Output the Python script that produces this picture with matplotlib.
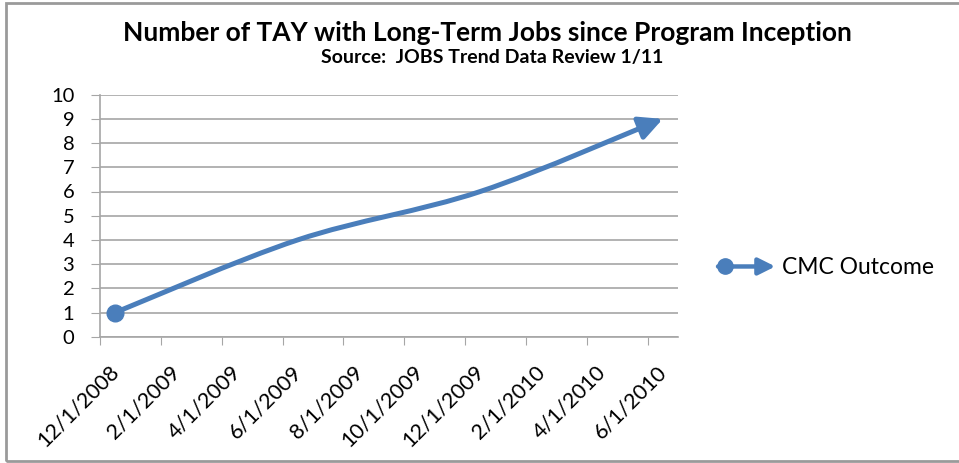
import numpy as np
import matplotlib
matplotlib.use("Agg")
import matplotlib.pyplot as plt
from matplotlib.path import Path
from matplotlib.patches import FancyArrowPatch, Rectangle
from matplotlib.legend_handler import HandlerBase
from matplotlib.lines import Line2D
from matplotlib.transforms import ScaledTranslation

# === Data ===
tick_labels = ["12/1/2008", "2/1/2009", "4/1/2009", "6/1/2009", "8/1/2009",
               "10/1/2009", "12/1/2009", "2/1/2010", "4/1/2010", "6/1/2010"]
# months since 12/1/2008 for each observation (Excel puts them mid-month)
obs_month = [0, 6, 12, 18]
obs_value = [1, 4, 6, 9]
series_name = "CMC Outcome"

title = "Number of TAY with Long-Term Jobs since Program Inception"
subtitle = "Source:  JOBS Trend Data Review 1/11"

blue = "#4a7ebb"
grid_col = "#a6a6a6"
plt.rcParams["font.family"] = ["Lato", "DejaVu Sans"]


def smooth_path(xs, ys):
    # Excel style smoothed line: cubic bezier through the points
    pts = np.column_stack([xs, ys]).astype(float)
    n = len(pts)
    verts = [pts[0]]
    codes = [Path.MOVETO]
    for i in range(n - 1):
        p0 = pts[i - 1] if i > 0 else pts[i]
        p1 = pts[i]
        p2 = pts[i + 1]
        p3 = pts[i + 2] if i + 2 < n else pts[i + 1]
        c1 = p1 + (p2 - p0) / 6.0
        c2 = p2 - (p3 - p1) / 6.0
        verts += [c1, c2, p2]
        codes += [Path.CURVE4] * 3
    return Path(verts, codes)


class DotArrowHandler(HandlerBase):
    def create_artists(self, legend, orig_handle, xdescent, ydescent,
                       width, height, fontsize, trans):
        y = height / 2 - ydescent
        arr = FancyArrowPatch((0, y), (width, y), transform=trans,
                              arrowstyle="-|>,head_length=10,head_width=5",
                              color=blue, lw=3.2, shrinkA=0, shrinkB=0,
                              mutation_scale=1)
        dot = Line2D([5], [y], marker="o", markersize=11, color=blue,
                     transform=trans)
        return [arr, dot]


fig = plt.figure(figsize=(9.59, 4.63), dpi=100)
ax = fig.add_axes([100 / 959, 1 - 336.7 / 463, 578 / 959, 242 / 463])

x = np.array(obs_month) + 0.5
ax.set_xlim(0, 19)
ax.set_ylim(0, 10)

path = smooth_path(x, obs_value)
line = FancyArrowPatch(path=path, arrowstyle="-|>,head_length=14,head_width=7",
                       color=blue, lw=3.6, mutation_scale=1, zorder=3)
ax.add_patch(line)
ax.plot(x[:1], obs_value[:1], "o", color=blue, markersize=12, zorder=4)

ax.set_yticks(range(0, 11))
ax.tick_params(axis="y", labelsize=14.5, length=6.5, color=grid_col, pad=12)
ax.tick_params(axis="x", length=6, color=grid_col, pad=17)
ax.set_xticks(np.arange(0, 20, 2))
ax.set_xticklabels(tick_labels, rotation=45, ha="right", va="center",
                   rotation_mode="anchor", fontsize=15.5)
shift = ScaledTranslation(0.16, 0, fig.dpi_scale_trans)
for lab in ax.get_xticklabels():
    lab.set_transform(lab.get_transform() + shift)
ax.yaxis.grid(True, color=grid_col, lw=1.2)
ax.set_axisbelow(True)
for s in ["top", "right"]:
    ax.spines[s].set_visible(False)
for s in ["left", "bottom"]:
    ax.spines[s].set_color(grid_col)
    ax.spines[s].set_linewidth(1.2)

handle = Line2D([], [], color=blue)
ax.legend([handle], [series_name], handler_map={Line2D: DotArrowHandler()},
          loc="center left", bbox_to_anchor=(718 / 959, 1 - 268 / 463),
          bbox_transform=fig.transFigure, frameon=False, fontsize=16.5,
          handlelength=2.5, handletextpad=0.3, borderpad=0, borderaxespad=0)

fig.text(487 / 959, 1 - 33 / 463, title, ha="center", va="center",
         fontsize=19, fontweight="bold")
fig.text(492 / 959, 1 - 58 / 463, subtitle, ha="center", va="center",
         fontsize=14, fontweight="bold")

# outer chart border
fig.add_artist(Rectangle((6 / 959, 2 / 463), 1.2, 458 / 463,
                         transform=fig.transFigure, fill=False,
                         edgecolor="#9a9a9a", lw=2))

fig.savefig("out.png", dpi=100)
